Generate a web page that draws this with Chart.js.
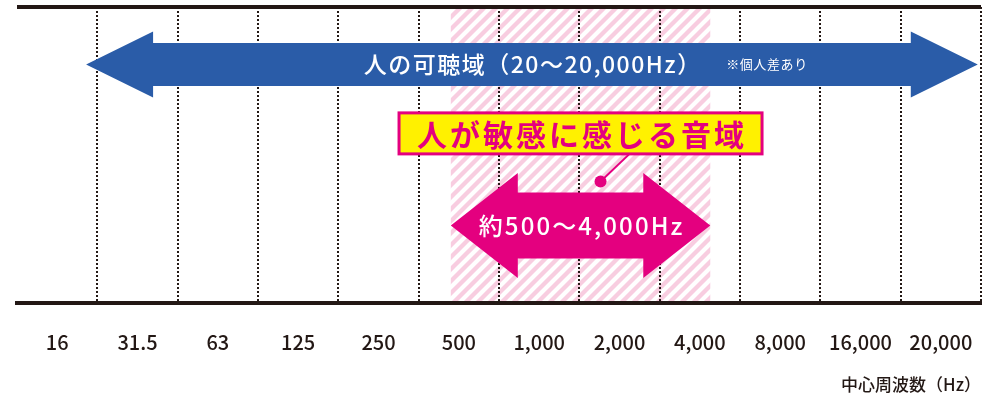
<!DOCTYPE html>
<html lang="ja">
<head>
<meta charset="utf-8">
<title>人の可聴域</title>
<script src="https://cdn.jsdelivr.net/npm/chart.js@4.4.1/dist/chart.umd.min.js"></script>
<style>
  html, body { margin: 0; padding: 0; background: #fff; }
  #wrap { width: 1002px; height: 396px; position: relative; }
</style>
</head>
<body>
<div id="wrap"><canvas id="rangeChart"></canvas></div>
<script>
// オクターブバンドの中心周波数 (Hz)
const bandLabels = ['16', '31.5', '63', '125', '250', '500', '1,000', '2,000', '4,000', '8,000', '16,000', '20,000'];

// 範囲はバンド位置で指定 (0 = 16Hz の中心, 11 = 20,000Hz の中心)
const audibleRange = [0.36, 11.46];
const sensitiveRange = [4.9, 8.13];

const audibleText = '人の可聴域（20～20,000Hz）';
const audibleNote = '※個人差あり';
const sensitiveTitle = '人が敏感に感じる音域';
const sensitiveText = '約500～4,000Hz';
const axisTitle = '中心周波数（Hz）';

const INK = '#231815';
const BLUE = '#2a5ca8';
const MAGENTA = '#e4007f';
const YELLOW = '#fff100';
const HATCH = '#f8cde0';
const JP_FONT = '"Noto Sans CJK JP", "Noto Sans", sans-serif';

// 斜線（／）のパターン
function hatchPattern(ctx) {
  const p = 12;
  const tile = document.createElement('canvas');
  tile.width = p;
  tile.height = p;
  const t = tile.getContext('2d');
  t.strokeStyle = HATCH;
  t.lineWidth = 4.3;
  t.beginPath();
  t.moveTo(-p, p); t.lineTo(p, -p);
  t.moveTo(0, p); t.lineTo(p, 0);
  t.moveTo(0, 2 * p); t.lineTo(2 * p, 0);
  t.stroke();
  return ctx.createPattern(tile, 'repeat');
}

function drawDoubleArrow(ctx, x1, x2, cy, shaftHalf, headHalf, headLen, color) {
  ctx.beginPath();
  ctx.moveTo(x1, cy);
  ctx.lineTo(x1 + headLen, cy - headHalf);
  ctx.lineTo(x1 + headLen, cy - shaftHalf);
  ctx.lineTo(x2 - headLen, cy - shaftHalf);
  ctx.lineTo(x2 - headLen, cy - headHalf);
  ctx.lineTo(x2, cy);
  ctx.lineTo(x2 - headLen, cy + headHalf);
  ctx.lineTo(x2 - headLen, cy + shaftHalf);
  ctx.lineTo(x1 + headLen, cy + shaftHalf);
  ctx.lineTo(x1 + headLen, cy + headHalf);
  ctx.closePath();
  ctx.fillStyle = color;
  ctx.fill();
}

// 字間つきのテキスト。右端の x を返す
function drawText(ctx, text, x, y, font, color, spacing, align) {
  ctx.font = font;
  ctx.letterSpacing = spacing + 'px';
  const w = ctx.measureText(text).width - spacing;
  const left = align === 'left' ? x : x - w / 2;
  ctx.textAlign = 'left';
  ctx.textBaseline = 'middle';
  ctx.fillStyle = color;
  ctx.fillText(text, left, y);
  ctx.letterSpacing = '0px';
  return left + w;
}

const rangeOverlay = {
  id: 'rangeOverlay',
  beforeDraw(chart) {
    const { ctx, chartArea } = chart;
    const x = chart.scales.x;
    const x1 = x.getPixelForValue(sensitiveRange[0]);
    const x2 = x.getPixelForValue(sensitiveRange[1]);
    ctx.save();
    ctx.fillStyle = hatchPattern(ctx);
    ctx.fillRect(x1, chartArea.top, x2 - x1, chartArea.bottom - chartArea.top);
    ctx.restore();
  },
  afterDatasetsDraw(chart) {
    const { ctx, chartArea } = chart;
    const x = chart.scales.x;
    const h = chartArea.bottom - chartArea.top;
    ctx.save();

    // 上の枠線
    ctx.strokeStyle = INK;
    ctx.lineWidth = 4;
    ctx.beginPath();
    ctx.moveTo(chartArea.left, chartArea.top);
    ctx.lineTo(chartArea.right, chartArea.top);
    ctx.stroke();

    // 可聴域の矢印
    const a1 = x.getPixelForValue(audibleRange[0]);
    const a2 = x.getPixelForValue(audibleRange[1]);
    const ay = chartArea.top + h * 0.194;
    drawDoubleArrow(ctx, a1, a2, ay, 21.5, 33, 67, BLUE);
    const textEnd = drawText(ctx, audibleText, (a1 + a2) / 2, ay, '500 23px ' + JP_FONT, '#fff', 1.5, 'center');
    drawText(ctx, audibleNote, textEnd + 26, ay, '400 13px ' + JP_FONT, '#fff', 0.6, 'left');

    // 敏感な音域の矢印
    const s1 = x.getPixelForValue(sensitiveRange[0]);
    const s2 = x.getPixelForValue(sensitiveRange[1]);
    const sx = (s1 + s2) / 2;
    const sy = chartArea.top + h * 0.738;
    drawDoubleArrow(ctx, s1, s2, sy, 33, 52.5, 67, MAGENTA);
    drawText(ctx, sensitiveText, sx, sy, '500 24px ' + JP_FONT, '#fff', 2.1, 'center');

    // 見出しボックスと引き出し線
    const by = chartArea.top + h * 0.427;
    const bw = 363, bh = 41;
    ctx.strokeStyle = MAGENTA;
    ctx.lineWidth = 2;
    ctx.beginPath();
    ctx.moveTo(sx + 49, by + bh / 2);
    ctx.lineTo(sx + 20, sy - 44);
    ctx.stroke();
    ctx.fillStyle = MAGENTA;
    ctx.beginPath();
    ctx.arc(sx + 20, sy - 44, 6, 0, Math.PI * 2);
    ctx.fill();

    ctx.fillStyle = YELLOW;
    ctx.fillRect(sx - bw / 2, by - bh / 2, bw, bh);
    ctx.lineWidth = 3;
    ctx.strokeRect(sx - bw / 2, by - bh / 2, bw, bh);
    drawText(ctx, sensitiveTitle, sx, by + 1, '700 30px ' + JP_FONT, MAGENTA, 3, 'center');

    ctx.restore();
  }
};

new Chart(document.getElementById('rangeChart'), {
  type: 'bar',
  data: { labels: bandLabels, datasets: [] },
  options: {
    responsive: true,
    maintainAspectRatio: false,
    animation: false,
    layout: { padding: { left: 17, right: 21, top: 7, bottom: 0 } },
    plugins: { legend: { display: false }, tooltip: { enabled: false } },
    scales: {
      x: {
        offset: true,
        afterFit: scale => { scale.height = 93; },
        grid: {
          offset: true,
          drawTicks: false,
          lineWidth: 2,
          color: c => (c.index === 0 || c.index === bandLabels.length) ? 'rgba(0,0,0,0)' : INK
        },
        border: { display: true, width: 4, color: INK, dash: [2, 2] },
        ticks: {
          color: INK,
          font: { family: JP_FONT, size: 20, weight: '500' },
          padding: 27,
          autoSkip: false,
          maxRotation: 0
        },
        title: {
          display: true,
          text: axisTitle,
          align: 'end',
          color: INK,
          font: { family: JP_FONT, size: 17, weight: '500' },
          padding: { top: 10, bottom: 1 }
        }
      },
      y: { display: false, min: 0, max: 1 }
    }
  },
  plugins: [rangeOverlay]
});
</script>
</body>
</html>
